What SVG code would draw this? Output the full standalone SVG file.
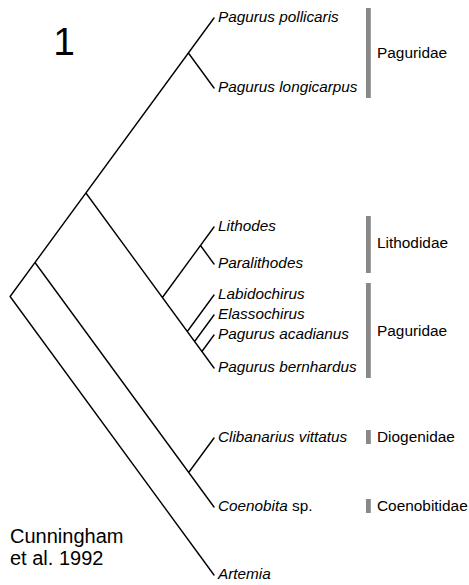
<svg xmlns="http://www.w3.org/2000/svg" width="469" height="585" viewBox="0 0 469 585">
<style>
.br{fill:none;stroke:#000;stroke-width:1.4;stroke-linecap:round;stroke-linejoin:round}
.tx{font-family:"Liberation Sans",Arial,sans-serif;font-size:15.3px;fill:#000}
.it{font-style:italic}
.fam{font-family:"Liberation Sans",Arial,sans-serif;font-size:15.4px;fill:#000}
.bar{fill:#888}
</style>
<rect width="469" height="585" fill="#fff"/>
<g id="connectors">
<path class="br" d="M214,575 L10.1,296.5 L214,18
M35,262.5 L214,507
M188.7,472.5 L214,438
M85.9,193 L214,368
M188.4,53 L214,88
M162.4,297.5 L214,227
M200.5,245.5 L214,264
M187.3,331.5 L214,295
M194.6,341.5 L214,315
M201.9,351.5 L214,335"/>
</g>
<g id="title"><text x="64" y="55" text-anchor="middle" font-family="Liberation Sans,Arial,sans-serif" font-size="39">1</text></g>
<g id="leaf-pollicaris"><text class="tx it" x="218" y="22">Pagurus pollicaris</text></g>
<g id="leaf-longicarpus"><text class="tx it" x="218" y="92">Pagurus longicarpus</text></g>
<g id="leaf-lithodes"><text class="tx it" x="218" y="231">Lithodes</text></g>
<g id="leaf-paralithodes"><text class="tx it" x="218" y="268">Paralithodes</text></g>
<g id="leaf-labidochirus"><text class="tx it" x="218" y="299">Labidochirus</text></g>
<g id="leaf-elassochirus"><text class="tx it" x="218" y="319">Elassochirus</text></g>
<g id="leaf-acadianus"><text class="tx it" x="218" y="339">Pagurus acadianus</text></g>
<g id="leaf-bernhardus"><text class="tx it" x="218" y="372">Pagurus bernhardus</text></g>
<g id="leaf-clibanarius"><text class="tx it" x="218" y="442">Clibanarius vittatus</text></g>
<g id="leaf-coenobita"><text class="tx" x="218" y="511"><tspan class="it">Coenobita</tspan> sp.</text></g>
<g id="leaf-artemia"><text class="tx it" x="218" y="579">Artemia</text></g>
<g id="fam-paguridae1"><rect class="bar" x="366" y="8" width="4.8" height="90"/><text class="fam" x="377" y="58">Paguridae</text></g>
<g id="fam-lithodidae"><rect class="bar" x="366" y="216" width="4.8" height="57"/><text class="fam" x="377" y="248">Lithodidae</text></g>
<g id="fam-paguridae2"><rect class="bar" x="366" y="283" width="4.8" height="95"/><text class="fam" x="377" y="336">Paguridae</text></g>
<g id="fam-diogenidae"><rect class="bar" x="366" y="430" width="4.8" height="14"/><text class="fam" x="377" y="442">Diogenidae</text></g>
<g id="fam-coenobitidae"><rect class="bar" x="366" y="499" width="4.8" height="14"/><text class="fam" x="377" y="511">Coenobitidae</text></g>
<g id="citation"><text x="10" y="543" font-family="Liberation Sans,Arial,sans-serif" font-size="20">Cunningham</text><text x="10" y="565" font-family="Liberation Sans,Arial,sans-serif" font-size="20">et al. 1992</text></g>
</svg>
